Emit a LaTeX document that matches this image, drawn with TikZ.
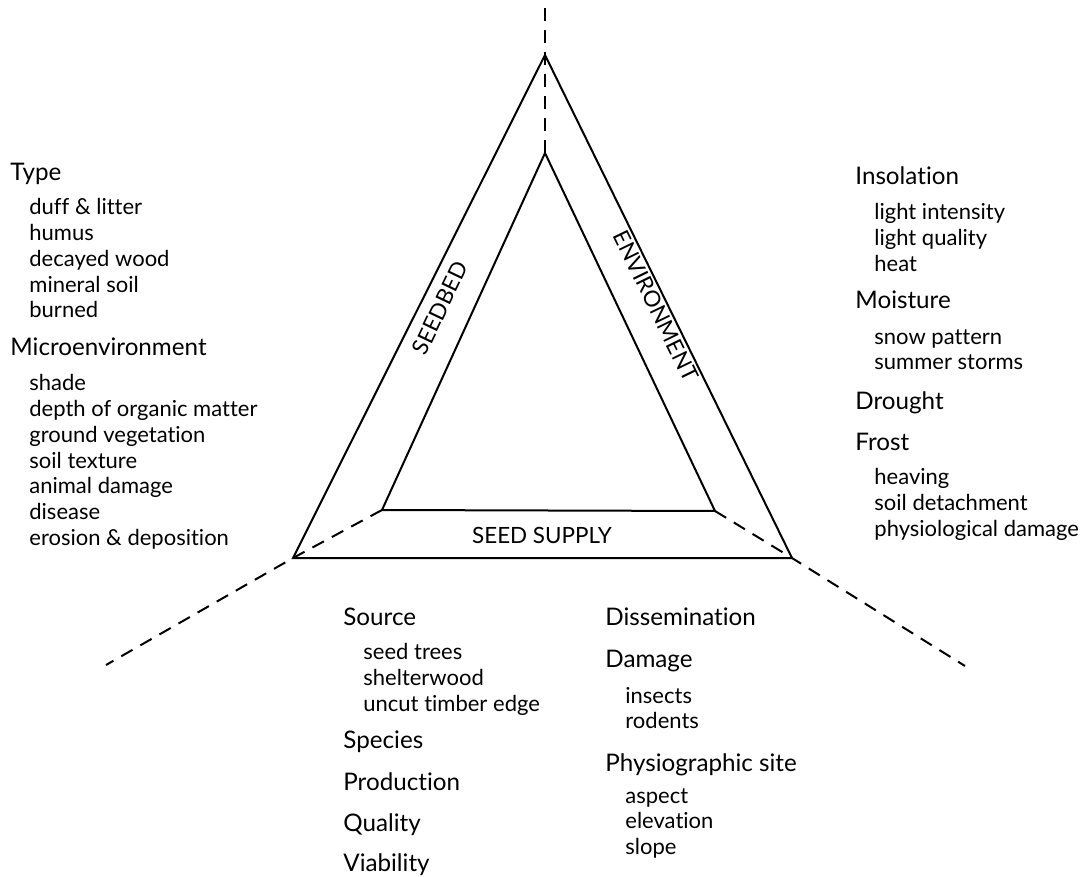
\documentclass[tikz,border=0pt]{standalone}
\usepackage{fontspec}
\setmainfont{Lato}[Ligatures=NoCommon]
\tikzset{
  head/.style={anchor=base west, inner sep=0pt, font=\fontsize{12.1}{15}\selectfont},
  item/.style={anchor=base west, inner sep=0pt, font=\fontsize{11}{12}\selectfont},
  band/.style={inner sep=0pt, font=\fontsize{11.2}{13}\selectfont},
  edge/.style={line width=1pt},
  ray/.style={line width=1pt, dash pattern=on 6.5pt off 4.5pt}
}
\begin{document}
\begin{tikzpicture}[x=0.5pt, y=-0.5pt] %Regeneration triangle
            \useasboundingbox (0,0) rectangle (1082,877);

            \coordinate (A) at (545,55);
            \coordinate (B) at (293,558);
            \coordinate (C) at (792,558);

            \coordinate (D) at (545,153);
            \coordinate (E) at (382,510);
            \coordinate (F) at (715,511);

            \coordinate (T) at (545,8);
            \coordinate (G) at (106,665);
            \coordinate (H) at (965,666);

            \draw[edge] (A) -- (B) -- (C) -- cycle;
            \draw[edge] (D) -- (E) -- (F) -- cycle;

            \draw[ray] (T) -- (D);
            \draw[ray] (E) -- (B) -- (G);
            \draw[ray] (F) -- (C) -- (H);

            \node[band, rotate=64.5] (seedbed) at (440,308) {SEEDBED};
            \node[band, rotate=-64] (environ) at (656,306) {ENVIRONMENT};
            \node[band] (supply) at (542,535) {SEED SUPPLY};

            % seedbed side
            \node[head] (type) at (10,181) {Type};
            \foreach \t [count=\i] in {duff \& litter, humus, decayed wood, mineral soil, burned}
                \node[item] (type\i) at (29,{215+25.75*(\i-1)}) {\t};
            \node[head] (micro) at (10,356) {Microenvironment};
            \foreach \t [count=\i] in {shade, depth of organic matter, ground vegetation, soil texture, animal damage, disease, erosion \& deposition}
                \node[item] (micro\i) at (29,{391+25.7*(\i-1)}) {\t};

            % environment side
            \node[head] (insol) at (855,185) {Insolation};
            \foreach \t [count=\i] in {light intensity, light quality, heat}
                \node[item] (insol\i) at (874,{220+25.8*(\i-1)}) {\t};
            \node[head] (moist) at (855,308) {Moisture};
            \foreach \t [count=\i] in {snow pattern, summer storms}
                \node[item] (moist\i) at (874,{344+26*(\i-1)}) {\t};
            \node[head] (drought) at (855,409) {Drought};
            \node[head] (frost) at (855,451) {Frost};
            \foreach \t [count=\i] in {heaving, soil detachment, physiological damage}
                \node[item] (frost\i) at (874,{484+26*(\i-1)}) {\t};

            % seed supply side
            \node[head] (source) at (343,625) {Source};
            \foreach \t [count=\i] in {seed trees, shelterwood, uncut timber edge}
                \node[item] (source\i) at (363,{659+26*(\i-1)}) {\t};
            \node[head] (species) at (343,748) {Species};
            \node[head] (prod) at (343,790) {Production};
            \node[head] (quality) at (343,831) {Quality};
            \node[head] (viab) at (343,871) {Viability};

            \node[head] (dissem) at (605,625) {Dissemination};
            \node[head] (damage) at (605,667) {Damage};
            \foreach \t [count=\i] in {insects, rodents}
                \node[item] (damage\i) at (625,{703+25.5*(\i-1)}) {\t};
            \node[head] (site) at (605,771) {Physiographic site};
            \foreach \t [count=\i] in {aspect, elevation, slope}
                \node[item] (site\i) at (625,{803+25.7*(\i-1)}) {\t};
        \end{tikzpicture}
\end{document}
